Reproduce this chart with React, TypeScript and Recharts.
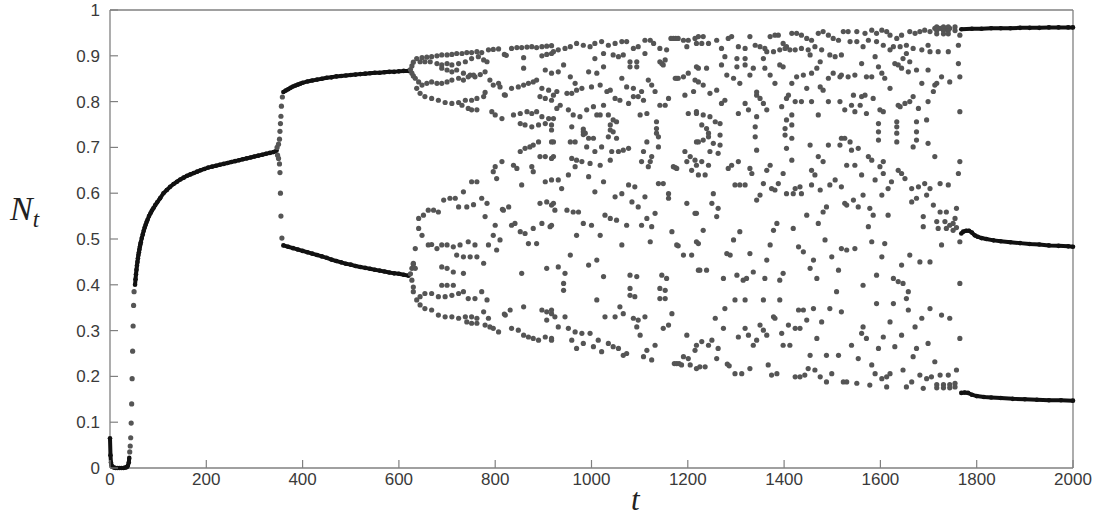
import React from 'react';
import { ScatterChart, Scatter, XAxis, YAxis, Label } from 'recharts';

// axis ticks
const tTicks = [0, 200, 400, 600, 800, 1000, 1200, 1400, 1600, 1800, 2000];
const nTicks = [0, 0.1, 0.2, 0.3, 0.4, 0.5, 0.6, 0.7, 0.8, 0.9, 1];

// [t, N] pairs
const extinctionPhase = [
    [0, 0.065], [1, 0.028], [2, 0.012], [3, 0.006], [5, 0.003], [8, 0.001], [12, 0], [16, 0], [20, 0],
    [24, 0], [28, 0], [32, 0.001], [35, 0.002], [37, 0.005], [39, 0.012], [40, 0.022],
];
const recoveryDots = [
    [41, 0.035], [42, 0.048], [43, 0.066], [44, 0.098], [45, 0.14], [46, 0.195], [47, 0.255], [48, 0.31],
    [49, 0.355], [50, 0.385],
];
const fixedPoint = [
    [52, 0.4], [53, 0.412], [54, 0.423], [55, 0.433], [56, 0.442], [57, 0.45], [58, 0.458], [59, 0.465],
    [60, 0.471], [61, 0.477], [62, 0.483], [63, 0.488], [64, 0.493], [66, 0.502], [68, 0.51], [70, 0.518],
    [72, 0.525], [74, 0.531], [76, 0.537], [78, 0.542], [81, 0.55], [84, 0.556], [87, 0.562], [90, 0.567],
    [94, 0.574], [98, 0.58], [104, 0.589], [111, 0.6], [118, 0.607], [125, 0.614], [132, 0.62], [139, 0.625],
    [146, 0.63], [153, 0.634], [160, 0.638], [167, 0.641], [174, 0.644], [181, 0.647], [188, 0.65],
    [196, 0.653], [204, 0.656], [212, 0.658], [220, 0.66], [228, 0.662], [236, 0.664], [244, 0.666],
    [252, 0.668], [260, 0.67], [268, 0.672], [276, 0.674], [284, 0.676], [292, 0.678], [300, 0.68],
    [308, 0.682], [316, 0.684], [324, 0.686], [332, 0.688], [340, 0.69], [346, 0.693],
];
const splitDots = [
    [347, 0.7], [348, 0.683], [350, 0.707], [350, 0.676], [352, 0.718], [352, 0.664], [353, 0.735],
    [353, 0.645], [354, 0.752], [354, 0.6], [355, 0.768], [355, 0.55], [356, 0.79], [357, 0.502], [358, 0.81],
];
const twoCycleHigh = [
    [360, 0.821], [365, 0.824], [370, 0.827], [375, 0.83], [380, 0.833], [385, 0.835], [390, 0.837],
    [395, 0.839], [400, 0.841], [410, 0.844], [420, 0.846], [430, 0.848], [440, 0.85], [450, 0.852],
    [460, 0.853], [470, 0.855], [480, 0.856], [490, 0.857], [500, 0.858], [510, 0.859], [520, 0.86],
    [530, 0.861], [540, 0.862], [550, 0.863], [560, 0.863], [570, 0.864], [580, 0.865], [590, 0.865],
    [600, 0.866], [610, 0.867], [620, 0.867],
];
const twoCycleLow = [
    [360, 0.486], [370, 0.483], [380, 0.48], [390, 0.477], [400, 0.474], [410, 0.471], [420, 0.468],
    [430, 0.465], [440, 0.462], [450, 0.459], [460, 0.455], [470, 0.452], [480, 0.449], [490, 0.446],
    [500, 0.444], [510, 0.441], [520, 0.439], [530, 0.437], [540, 0.435], [550, 0.433], [560, 0.431],
    [570, 0.429], [580, 0.427], [590, 0.425], [600, 0.424], [610, 0.422], [620, 0.42],
];
const chaos1 = [
    [624, 0.87], [627, 0.878], [630, 0.886], [627, 0.862], [630, 0.856], [624, 0.424], [627, 0.436], [630, 0.445],
    [627, 0.41], [630, 0.395],
    [637, 0.894], [648, 0.896], [658, 0.897], [668, 0.898], [679, 0.9], [689, 0.902], [700, 0.902], [710, 0.903],
    [720, 0.905], [731, 0.905], [741, 0.907], [751, 0.907], [762, 0.909], [772, 0.907], [786, 0.913], [796, 0.914],
    [807, 0.915], [819, 0.903], [823, 0.901], [834, 0.916], [845, 0.918], [855, 0.918], [866, 0.919], [876, 0.92],
    [886, 0.918], [897, 0.92], [907, 0.921], [917, 0.922],
    [644, 0.887], [654, 0.887], [665, 0.887], [679, 0.883], [689, 0.88], [700, 0.883], [710, 0.88], [724, 0.883],
    [738, 0.887], [751, 0.894], [765, 0.898], [776, 0.891], [783, 0.887],
    [689, 0.873], [700, 0.869], [710, 0.865], [720, 0.869], [734, 0.862], [748, 0.858], [758, 0.854], [769, 0.859],
    [779, 0.865], [859, 0.896], [897, 0.9], [907, 0.903], [917, 0.905], [859, 0.873], [904, 0.869], [917, 0.862],
    [634, 0.851], [641, 0.843], [637, 0.829], [644, 0.818], [654, 0.811], [668, 0.807], [682, 0.803], [696, 0.798],
    [710, 0.796], [724, 0.798], [738, 0.803], [751, 0.803], [762, 0.807], [776, 0.811], [779, 0.82],
    [648, 0.836], [658, 0.84], [668, 0.843], [679, 0.84], [689, 0.84], [700, 0.843], [710, 0.847], [724, 0.851],
    [734, 0.847], [744, 0.854], [755, 0.858], [731, 0.792], [744, 0.785], [751, 0.782], [762, 0.782],
    [789, 0.847], [796, 0.836], [807, 0.84], [810, 0.832], [819, 0.815], [821, 0.814], [834, 0.829], [848, 0.832],
    [859, 0.836], [869, 0.84], [879, 0.843], [886, 0.847], [897, 0.829], [911, 0.825], [893, 0.811], [904, 0.807],
    [917, 0.803], [793, 0.778], [800, 0.771], [814, 0.763], [838, 0.771], [852, 0.774], [866, 0.778], [876, 0.774],
    [886, 0.778], [897, 0.767], [911, 0.763], [852, 0.752], [862, 0.749], [876, 0.745], [890, 0.749], [904, 0.752],
    [917, 0.749],
    [890, 0.712], [879, 0.705], [872, 0.701], [862, 0.698], [852, 0.691], [917, 0.712], [893, 0.68], [904, 0.68],
    [917, 0.676], [814, 0.669], [800, 0.658], [796, 0.647], [803, 0.632], [838, 0.661], [845, 0.654], [876, 0.658],
    [879, 0.647], [855, 0.618], [904, 0.625], [917, 0.629],
    [762, 0.625], [751, 0.625], [734, 0.603], [717, 0.589], [706, 0.589], [693, 0.585], [682, 0.559], [672, 0.563],
    [661, 0.563], [651, 0.552], [641, 0.545], [641, 0.523], [648, 0.508], [724, 0.57], [741, 0.57], [755, 0.575],
    [772, 0.589], [783, 0.578], [779, 0.549], [800, 0.53], [815, 0.565], [817, 0.563], [828, 0.57], [834, 0.53],
    [841, 0.534], [852, 0.516], [862, 0.512], [879, 0.523], [897, 0.534], [914, 0.527], [893, 0.578], [907, 0.581],
    [917, 0.574], [796, 0.508], [810, 0.498], [786, 0.487], [803, 0.476], [869, 0.49], [886, 0.49],
    [661, 0.487], [668, 0.488], [679, 0.479], [689, 0.487], [700, 0.487], [713, 0.483], [727, 0.487], [744, 0.494],
    [758, 0.487], [720, 0.465], [734, 0.461], [748, 0.461], [762, 0.461], [776, 0.447], [634, 0.479], [855, 0.425],
    [907, 0.436],
    [630, 0.447], [634, 0.436], [689, 0.439], [700, 0.436], [713, 0.428], [734, 0.425],
    [630, 0.385], [637, 0.367], [644, 0.356], [654, 0.348], [668, 0.345], [682, 0.334], [696, 0.33], [710, 0.33],
    [724, 0.327], [738, 0.33], [751, 0.33], [762, 0.327], [776, 0.341], [786, 0.327],
    [644, 0.374], [654, 0.381], [668, 0.381], [682, 0.374], [696, 0.374], [710, 0.377], [724, 0.381], [734, 0.385],
    [744, 0.37], [758, 0.37], [772, 0.385], [783, 0.367], [689, 0.399], [700, 0.399], [713, 0.399],
    [741, 0.319], [751, 0.316], [762, 0.316], [779, 0.312], [789, 0.308], [796, 0.305], [807, 0.297], [819, 0.336],
    [821, 0.334], [831, 0.345], [834, 0.305], [848, 0.301], [859, 0.29], [869, 0.286], [879, 0.283], [890, 0.279],
    [904, 0.286], [917, 0.279], [859, 0.352], [897, 0.345], [907, 0.341], [917, 0.337], [907, 0.323],
];
const chaos2 = [
    [921, 0.909], [931, 0.913], [945, 0.916], [956, 0.92], [969, 0.927], [983, 0.923], [997, 0.92], [1007, 0.927],
    [1021, 0.931], [1035, 0.923], [1049, 0.927], [1063, 0.931], [1073, 0.931], [1087, 0.916], [1097, 0.92],
    [1111, 0.934], [1122, 0.934], [1129, 0.927], [1142, 0.916], [1156, 0.913], [1165, 0.938], [1170, 0.938],
    [1175, 0.938], [1180, 0.938], [1191, 0.934], [1201, 0.934], [1215, 0.938], [1198, 0.92], [1218, 0.927],
    [942, 0.88], [1007, 0.894], [1025, 0.905], [1045, 0.902], [1056, 0.898], [1066, 0.902], [1080, 0.887],
    [1094, 0.887], [1111, 0.905], [1080, 0.876], [1094, 0.876], [1142, 0.887], [1146, 0.883], [1149, 0.88],
    [1153, 0.891], [1218, 0.876], [1177, 0.851], [1180, 0.851], [1191, 0.854], [1174, 0.851], [1201, 0.862],
    [1215, 0.847],
    [931, 0.865], [956, 0.854], [966, 0.84], [980, 0.829], [994, 0.865], [1011, 0.862], [1025, 0.876],
    [1063, 0.851], [1073, 0.832], [1087, 0.829], [1104, 0.822], [1118, 0.847], [1125, 0.836], [1132, 0.822],
    [1018, 0.836], [1000, 0.832], [1032, 0.822], [1039, 0.825], [1049, 0.807], [1059, 0.803], [1077, 0.796],
    [1087, 0.811], [1097, 0.811], [1108, 0.803], [921, 0.814], [928, 0.822], [949, 0.818], [959, 0.818],
    [969, 0.825], [1142, 0.792], [1153, 0.792], [1160, 0.807], [1194, 0.814], [1212, 0.822], [1201, 0.774],
    [1218, 0.778],
    [935, 0.792], [928, 0.785], [952, 0.782], [962, 0.771], [976, 0.767], [990, 0.782], [1004, 0.789],
    [1011, 0.771], [1025, 0.792], [1018, 0.771], [1035, 0.771], [1045, 0.76], [1052, 0.756], [1039, 0.749],
    [959, 0.745], [983, 0.74], [983, 0.734], [983, 0.728], [987, 0.731], [994, 0.72], [1004, 0.72], [1039, 0.738],
    [1045, 0.734], [1035, 0.723], [1052, 0.72], [921, 0.763], [917, 0.738], [921, 0.712], [921, 0.68],
    [956, 0.712], [966, 0.712], [990, 0.701], [1007, 0.691], [1021, 0.701], [1042, 0.691], [1056, 0.691],
    [1066, 0.694], [1077, 0.698], [1101, 0.771], [1115, 0.774], [1135, 0.756], [1135, 0.741], [1135, 0.731],
    [1139, 0.723], [1115, 0.712], [1139, 0.701], [1108, 0.691], [1104, 0.669], [1125, 0.68], [1122, 0.669],
    [1118, 0.658], [1170, 0.658], [1174, 0.656], [1177, 0.654], [1194, 0.691], [1205, 0.68], [1215, 0.672],
    [1218, 0.712], [1198, 0.669], [1208, 0.65],
    [959, 0.676], [969, 0.672], [980, 0.669], [966, 0.658], [952, 0.64], [997, 0.665], [1018, 0.661],
    [1039, 0.672], [994, 0.636], [1025, 0.625], [1007, 0.603], [931, 0.629], [938, 0.61], [921, 0.578],
    [924, 0.563], [949, 0.563], [962, 0.559], [973, 0.559], [983, 0.534], [1000, 0.53], [1028, 0.552],
    [1039, 0.545], [1052, 0.541], [1073, 0.53], [1049, 0.592], [1063, 0.599], [1077, 0.618], [1090, 0.614],
    [1084, 0.581], [1097, 0.57], [1111, 0.592], [1115, 0.545], [1104, 0.53], [1125, 0.527], [1132, 0.556],
    [1139, 0.621], [1149, 0.621], [1160, 0.599], [1160, 0.589], [1198, 0.578], [1215, 0.556],
    [917, 0.53], [969, 0.508], [1018, 0.508], [1063, 0.487], [1122, 0.494], [1167, 0.516], [1177, 0.487],
    [1180, 0.485], [1191, 0.465], [1208, 0.465], [1218, 0.494], [1222, 0.432], [956, 0.465], [931, 0.439],
    [945, 0.425], [994, 0.443], [1011, 0.454], [942, 0.403], [942, 0.388], [1025, 0.418], [1080, 0.421],
    [1094, 0.418], [1080, 0.392], [1080, 0.377], [1090, 0.374], [1146, 0.421], [1156, 0.414], [1142, 0.392],
    [1153, 0.388], [1142, 0.37], [1153, 0.37],
    [1011, 0.367], [1059, 0.352], [1066, 0.337], [1049, 0.33], [1028, 0.33], [917, 0.345], [924, 0.33],
    [945, 0.33], [931, 0.308], [952, 0.305], [966, 0.297], [980, 0.294], [997, 0.294], [959, 0.279],
    [1014, 0.279], [1035, 0.272], [1045, 0.265], [1056, 0.261], [969, 0.261], [983, 0.272], [1004, 0.265],
    [917, 0.283], [1021, 0.254], [1066, 0.246], [1073, 0.25], [1087, 0.327], [1097, 0.323], [1094, 0.308],
    [1111, 0.33], [1101, 0.29], [1115, 0.257], [1108, 0.243], [1125, 0.236], [1132, 0.268], [1149, 0.305],
    [1160, 0.312], [1167, 0.337], [1198, 0.29], [1215, 0.257], [1201, 0.239], [1172, 0.228], [1177, 0.228],
    [1182, 0.228], [1187, 0.225], [1205, 0.225], [1218, 0.217], [1191, 0.243], [1218, 0.268],
];
const chaos3 = [
    [1222, 0.942], [1232, 0.942], [1243, 0.927], [1229, 0.927], [1260, 0.934], [1270, 0.916], [1284, 0.938],
    [1291, 0.942], [1305, 0.92], [1319, 0.916], [1329, 0.942], [1340, 0.923], [1350, 0.92], [1360, 0.916],
    [1371, 0.942], [1381, 0.945], [1388, 0.945], [1398, 0.927], [1405, 0.92], [1416, 0.949], [1426, 0.949],
    [1436, 0.945], [1447, 0.938], [1457, 0.934], [1471, 0.949], [1481, 0.953], [1492, 0.945], [1502, 0.938],
    [1513, 0.934], [1523, 0.953], [1423, 0.913], [1436, 0.916], [1450, 0.913], [1464, 0.92], [1478, 0.913],
    [1495, 0.902], [1506, 0.898], [1519, 0.902], [1277, 0.898], [1302, 0.894], [1319, 0.894], [1364, 0.909],
    [1378, 0.909], [1391, 0.913], [1402, 0.916], [1412, 0.913],
    [1222, 0.873], [1239, 0.873], [1270, 0.88], [1302, 0.876], [1319, 0.88], [1336, 0.873], [1281, 0.858],
    [1295, 0.851], [1308, 0.84], [1329, 0.858], [1357, 0.894], [1360, 0.873], [1371, 0.858], [1381, 0.84],
    [1391, 0.88], [1398, 0.876], [1416, 0.84], [1426, 0.854], [1440, 0.858], [1447, 0.829], [1457, 0.862],
    [1468, 0.873], [1475, 0.832], [1481, 0.825], [1492, 0.851], [1502, 0.862], [1516, 0.854], [1454, 0.902],
    [1475, 0.887], [1222, 0.843], [1232, 0.836], [1246, 0.818], [1260, 0.825], [1270, 0.796], [1277, 0.803],
    [1319, 0.796], [1326, 0.782], [1343, 0.814], [1343, 0.821], [1350, 0.807], [1357, 0.796], [1364, 0.782],
    [1409, 0.814], [1405, 0.807], [1395, 0.789], [1423, 0.8], [1436, 0.8], [1457, 0.8], [1471, 0.771],
    [1492, 0.8], [1516, 0.8], [1305, 0.774],
    [1218, 0.774], [1232, 0.771], [1246, 0.767], [1229, 0.749], [1239, 0.741], [1243, 0.731], [1243, 0.723],
    [1257, 0.756], [1267, 0.752], [1267, 0.727], [1267, 0.705], [1222, 0.712], [1232, 0.716], [1246, 0.691],
    [1263, 0.687], [1253, 0.709], [1229, 0.669], [1218, 0.661], [1243, 0.661], [1222, 0.64], [1236, 0.64],
    [1343, 0.767], [1340, 0.745], [1340, 0.723], [1343, 0.694], [1405, 0.76], [1416, 0.771], [1402, 0.741],
    [1416, 0.749], [1402, 0.727], [1416, 0.72], [1405, 0.698], [1416, 0.672], [1454, 0.705], [1471, 0.68],
    [1481, 0.669], [1492, 0.705], [1516, 0.705], [1519, 0.72], [1284, 0.654], [1291, 0.661], [1305, 0.669],
    [1329, 0.654], [1333, 0.643], [1371, 0.661], [1364, 0.65], [1398, 0.643], [1457, 0.65], [1464, 0.64],
    [1298, 0.618], [1308, 0.618], [1319, 0.618], [1343, 0.585], [1350, 0.596], [1357, 0.621], [1374, 0.61],
    [1381, 0.607], [1388, 0.621], [1405, 0.599], [1419, 0.599], [1423, 0.61], [1433, 0.614], [1436, 0.599],
    [1457, 0.618], [1475, 0.607], [1495, 0.618], [1506, 0.629], [1519, 0.614], [1526, 0.578], [1253, 0.599],
    [1250, 0.578], [1263, 0.567], [1260, 0.549], [1218, 0.556], [1222, 0.49], [1232, 0.519], [1308, 0.516],
    [1295, 0.498], [1281, 0.468], [1288, 0.465], [1329, 0.468], [1371, 0.487], [1378, 0.519], [1385, 0.534],
    [1419, 0.523], [1430, 0.483], [1440, 0.472], [1447, 0.552], [1471, 0.534], [1481, 0.559], [1488, 0.57],
    [1485, 0.498], [1519, 0.479], [1499, 0.461], [1461, 0.454],
    [1225, 0.432], [1239, 0.432], [1274, 0.414], [1302, 0.421], [1315, 0.41], [1322, 0.414], [1336, 0.428],
    [1360, 0.414], [1364, 0.454], [1391, 0.41], [1398, 0.425], [1454, 0.436], [1468, 0.414], [1513, 0.432],
    [1509, 0.385], [1298, 0.367], [1319, 0.367], [1357, 0.367], [1391, 0.367], [1277, 0.348], [1430, 0.345],
    [1440, 0.345], [1461, 0.348], [1495, 0.348], [1519, 0.341],
    [1257, 0.327], [1274, 0.305], [1305, 0.286], [1319, 0.305], [1326, 0.29], [1350, 0.312], [1357, 0.301],
    [1364, 0.29], [1343, 0.279], [1336, 0.268], [1378, 0.33], [1381, 0.327], [1395, 0.294], [1409, 0.312],
    [1423, 0.305], [1433, 0.305], [1447, 0.323], [1478, 0.319], [1468, 0.283], [1398, 0.268], [1412, 0.268],
    [1229, 0.276], [1243, 0.268], [1250, 0.279], [1263, 0.261], [1260, 0.239], [1225, 0.221], [1236, 0.221],
    [1282, 0.227], [1286, 0.223], [1298, 0.206], [1312, 0.206], [1329, 0.217], [1367, 0.225], [1374, 0.203],
    [1385, 0.206], [1423, 0.199], [1433, 0.199], [1443, 0.203], [1454, 0.246], [1450, 0.217], [1464, 0.214],
    [1475, 0.199], [1488, 0.188], [1488, 0.246], [1499, 0.206], [1513, 0.246], [1523, 0.188],
];
const chaos4 = [
    [1533, 0.953], [1551, 0.953], [1568, 0.949], [1582, 0.956], [1592, 0.949], [1603, 0.956], [1613, 0.953],
    [1620, 0.945], [1634, 0.938], [1644, 0.945], [1661, 0.953], [1672, 0.949], [1682, 0.953], [1692, 0.956],
    [1703, 0.953], [1713, 0.96], [1724, 0.96], [1734, 0.96], [1744, 0.96], [1765, 0.945],
    [1717, 0.963], [1717, 0.955], [1717, 0.948], [1731, 0.963], [1731, 0.955], [1731, 0.948], [1741, 0.963],
    [1741, 0.955], [1741, 0.948], [1755, 0.963], [1755, 0.955],
    [1537, 0.931], [1551, 0.931], [1564, 0.92], [1575, 0.934], [1592, 0.931], [1606, 0.923], [1620, 0.913],
    [1627, 0.92], [1641, 0.92], [1654, 0.923], [1668, 0.916], [1686, 0.913], [1699, 0.923], [1703, 0.909],
    [1720, 0.909], [1741, 0.909], [1762, 0.923], [1762, 0.883], [1765, 0.854],
    [1519, 0.858], [1533, 0.854], [1547, 0.858], [1561, 0.883], [1571, 0.854], [1582, 0.854], [1589, 0.898],
    [1596, 0.876], [1603, 0.862], [1609, 0.851], [1620, 0.829], [1630, 0.883], [1637, 0.88], [1647, 0.894],
    [1654, 0.905], [1661, 0.887], [1644, 0.873], [1658, 0.865], [1675, 0.869], [1699, 0.869], [1686, 0.84],
    [1713, 0.836], [1717, 0.84], [1727, 0.854], [1744, 0.843], [1668, 0.811], [1661, 0.8], [1699, 0.8],
    [1710, 0.822], [1544, 0.814], [1561, 0.811], [1568, 0.814], [1558, 0.792], [1585, 0.807], [1540, 0.792],
    [1526, 0.782], [1547, 0.778], [1571, 0.774], [1599, 0.782], [1606, 0.778], [1637, 0.792], [1641, 0.789],
    [1651, 0.796], [1679, 0.785], [1696, 0.76], [1596, 0.752], [1596, 0.734], [1596, 0.716], [1634, 0.756],
    [1634, 0.745], [1634, 0.731], [1634, 0.712], [1675, 0.756], [1675, 0.734], [1675, 0.716], [1668, 0.701],
    [1699, 0.709], [1713, 0.68], [1765, 0.778], [1765, 0.669], [1762, 0.643], [1526, 0.72], [1537, 0.712],
    [1540, 0.694], [1554, 0.698], [1575, 0.68], [1582, 0.672], [1606, 0.669], [1599, 0.658], [1530, 0.661],
    [1547, 0.661], [1561, 0.64],
    [1589, 0.629], [1606, 0.643], [1603, 0.596], [1616, 0.61], [1623, 0.625], [1637, 0.65], [1644, 0.643],
    [1651, 0.632], [1665, 0.61], [1679, 0.614], [1692, 0.621], [1703, 0.61], [1724, 0.621], [1741, 0.618],
    [1665, 0.581], [1675, 0.589], [1696, 0.596], [1710, 0.574], [1724, 0.559], [1737, 0.559], [1758, 0.567],
    [1544, 0.585], [1530, 0.574], [1554, 0.57], [1564, 0.596], [1578, 0.567], [1585, 0.552], [1616, 0.552],
    [1689, 0.549], [1689, 0.527], [1717, 0.538], [1720, 0.523], [1734, 0.538], [1737, 0.523], [1751, 0.534],
    [1751, 0.519], [1755, 0.545], [1744, 0.53], [1758, 0.525], [1575, 0.527],
    [1530, 0.476], [1547, 0.479], [1582, 0.494], [1609, 0.49], [1603, 0.461], [1644, 0.443], [1661, 0.465],
    [1682, 0.45], [1703, 0.45], [1727, 0.487], [1765, 0.494], [1765, 0.403], [1564, 0.399], [1592, 0.421],
    [1627, 0.414], [1637, 0.407], [1647, 0.403], [1658, 0.385], [1654, 0.37], [1658, 0.345], [1592, 0.359],
    [1627, 0.359], [1703, 0.348], [1727, 0.334], [1744, 0.327], [1686, 0.327], [1672, 0.308], [1644, 0.29],
    [1620, 0.319], [1606, 0.286], [1564, 0.308], [1561, 0.294], [1571, 0.283], [1540, 0.268], [1596, 0.261],
    [1630, 0.265], [1668, 0.243], [1675, 0.261], [1699, 0.272], [1713, 0.232], [1765, 0.283],
    [1554, 0.239], [1582, 0.225], [1589, 0.206], [1603, 0.195], [1613, 0.199], [1620, 0.206], [1647, 0.214],
    [1665, 0.188], [1682, 0.203], [1696, 0.195], [1706, 0.199], [1724, 0.203], [1741, 0.203], [1758, 0.214],
    [1530, 0.188], [1551, 0.185], [1578, 0.181], [1613, 0.177], [1689, 0.174], [1654, 0.177],
    [1717, 0.182], [1717, 0.175], [1731, 0.182], [1731, 0.175], [1744, 0.182], [1744, 0.175], [1755, 0.185],
    [1755, 0.177],
];
const threeCycleHigh = [
    [1768, 0.958], [1790, 0.959], [1810, 0.959], [1830, 0.96], [1850, 0.96], [1870, 0.96], [1890, 0.961],
    [1910, 0.961], [1930, 0.961], [1950, 0.962], [1970, 0.962], [1990, 0.962], [2000, 0.962],
];
const threeCycleMid = [
    [1768, 0.512], [1772, 0.516], [1778, 0.518], [1784, 0.518], [1790, 0.514], [1796, 0.508], [1802, 0.505],
    [1810, 0.502], [1820, 0.5], [1835, 0.497], [1850, 0.495], [1870, 0.493], [1890, 0.491], [1910, 0.489],
    [1930, 0.488], [1950, 0.486], [1970, 0.485], [1990, 0.484], [2000, 0.483],
];
const threeCycleLow = [
    [1768, 0.164], [1775, 0.165], [1782, 0.164], [1790, 0.16], [1800, 0.157], [1815, 0.155], [1830, 0.154],
    [1850, 0.153], [1875, 0.151], [1900, 0.15], [1925, 0.149], [1950, 0.148], [1975, 0.148], [2000, 0.147],
];

const FRAME = '#808080';
const LABEL = '#3a3a3a';
const SANS = "'Liberation Sans', Arial, Helvetica, sans-serif";
const SERIF = "'Liberation Serif', 'Times New Roman', serif";
const TICK_LEN = 8;

const toPts = (arr: number[][]) => arr.map(([t, n]) => ({ t, n }));

const branchDot = (p: any) => <circle cx={p.cx} cy={p.cy} r={2.3} fill="#111" />;
const looseDot = (p: any) => <circle cx={p.cx} cy={p.cy} r={2.6} fill="#555" />;
const branchLine = { stroke: '#111', strokeWidth: 4 };

const BottomTick = ({ x, y, payload }: any) => (
    <g>
        <line x1={x} x2={x} y1={y} y2={y - TICK_LEN} stroke={FRAME} strokeWidth={1.2} />
        <text x={x} y={y + 17} textAnchor="middle" fontFamily={SANS} fontSize={17} fill={LABEL}>
            {payload.value}
        </text>
    </g>
);
const LeftTick = ({ x, y, payload }: any) => (
    <g>
        <line x1={x} x2={x + TICK_LEN} y1={y} y2={y} stroke={FRAME} strokeWidth={1.2} />
        <text x={x - 10} y={y + 6} textAnchor="end" fontFamily={SANS} fontSize={17} fill={LABEL}>
            {Number(payload.value.toFixed(1)).toString()}
        </text>
    </g>
);
const TopTick = ({ x, y }: any) => (
    <line x1={x} x2={x} y1={y} y2={y + TICK_LEN} stroke={FRAME} strokeWidth={1.2} />
);
const RightTick = ({ x, y }: any) => (
    <line x1={x} x2={x - TICK_LEN} y1={y} y2={y} stroke={FRAME} strokeWidth={1.2} />
);

const NLabel = () => (
    <text x={10} y={220} fontFamily={SERIF} fontStyle="italic" fontSize={34} fill="#222">
        N<tspan fontSize={23} dy={7}>t</tspan>
    </text>
);
const TLabel = () => (
    <text x={631} y={510} fontFamily={SERIF} fontStyle="italic" fontSize={31} fill="#222">
        t
    </text>
);

export default function App() {
    const axisLine = { stroke: FRAME, strokeWidth: 1.3 };
    return (
        <div style={{ position: 'absolute', left: 0, top: 0, width: 1097, height: 517, background: '#fff' }}>
            <ScatterChart width={1097} height={517} margin={{ top: 9, right: 23, bottom: 0, left: 0 }}>
                <XAxis
                    type="number"
                    dataKey="t"
                    domain={[0, 2000]}
                    ticks={tTicks}
                    height={49}
                    tickSize={0}
                    tickMargin={0}
                    axisLine={axisLine}
                    tick={<BottomTick />}
                    interval={0}
                >
                    <Label content={<TLabel />} />
                </XAxis>
                <XAxis
                    xAxisId="top"
                    orientation="top"
                    type="number"
                    domain={[0, 2000]}
                    ticks={tTicks}
                    height={1}
                    tickSize={0}
                    tickMargin={0}
                    axisLine={axisLine}
                    tick={<TopTick />}
                    interval={0}
                />
                <YAxis
                    type="number"
                    dataKey="n"
                    domain={[0, 1]}
                    ticks={nTicks}
                    width={110}
                    tickSize={0}
                    tickMargin={0}
                    axisLine={axisLine}
                    tick={<LeftTick />}
                    interval={0}
                >
                    <Label content={<NLabel />} />
                </YAxis>
                <YAxis
                    yAxisId="right"
                    orientation="right"
                    type="number"
                    domain={[0, 1]}
                    ticks={nTicks}
                    width={1}
                    tickSize={0}
                    tickMargin={0}
                    axisLine={axisLine}
                    tick={<RightTick />}
                    interval={0}
                />
                <Scatter data={toPts(extinctionPhase)} shape={branchDot} line={branchLine} isAnimationActive={false} />
                <Scatter data={toPts(recoveryDots)} shape={looseDot} isAnimationActive={false} />
                <Scatter data={toPts(fixedPoint)} shape={branchDot} line={branchLine} isAnimationActive={false} />
                <Scatter data={toPts(splitDots)} shape={looseDot} isAnimationActive={false} />
                <Scatter data={toPts(twoCycleHigh)} shape={branchDot} line={branchLine} isAnimationActive={false} />
                <Scatter data={toPts(twoCycleLow)} shape={branchDot} line={branchLine} isAnimationActive={false} />
                <Scatter data={toPts(chaos1)} shape={looseDot} isAnimationActive={false} />
                <Scatter data={toPts(chaos2)} shape={looseDot} isAnimationActive={false} />
                <Scatter data={toPts(chaos3)} shape={looseDot} isAnimationActive={false} />
                <Scatter data={toPts(chaos4)} shape={looseDot} isAnimationActive={false} />
                <Scatter data={toPts(threeCycleHigh)} shape={branchDot} line={branchLine} isAnimationActive={false} />
                <Scatter data={toPts(threeCycleMid)} shape={branchDot} line={branchLine} isAnimationActive={false} />
                <Scatter data={toPts(threeCycleLow)} shape={branchDot} line={branchLine} isAnimationActive={false} />
            </ScatterChart>
        </div>
    );
}
